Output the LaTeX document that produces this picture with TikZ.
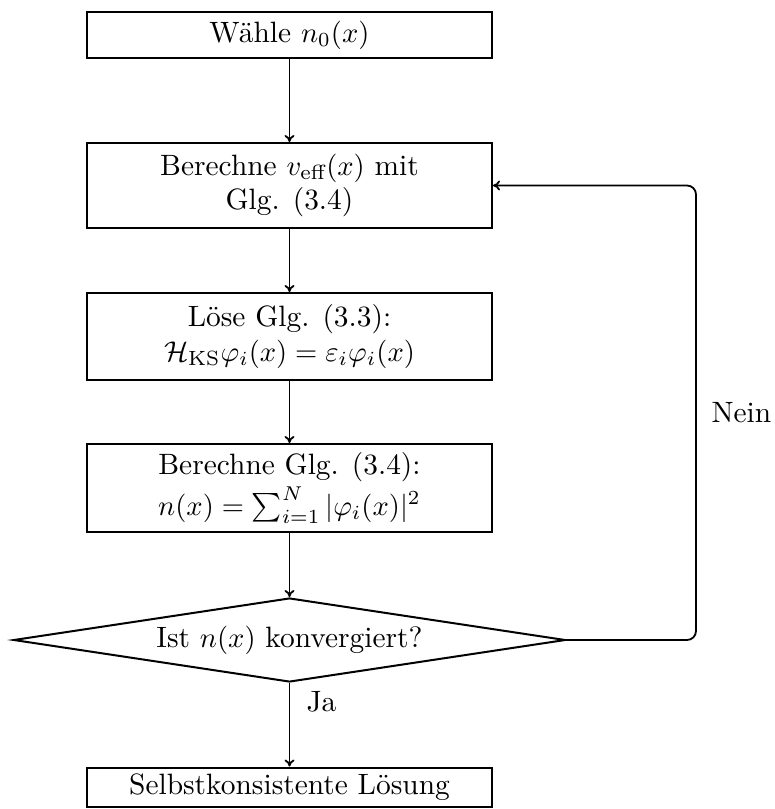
\documentclass[tikz,border=0pt]{standalone}
\usepackage{amsmath}
\usetikzlibrary{shapes.geometric,arrows.meta}
\begin{document}
\begin{tikzpicture}[x=0.35pt,y=-0.35pt,
  every node/.style={font=\fontsize{10.3}{12.1}\selectfont},
  stepbox/.style={draw,line width=0.7pt,rectangle,minimum width=141.75pt,align=center,inner sep=0pt},
  flow/.style={line width=0.63pt,-{To[length=2.45pt,width=3.5pt]}}]
\useasboundingbox (0,0) rectangle (775,809);
\node[stepbox,minimum height=16.1pt] (b1) at (289.5,35) {W\"ahle $n_0(x)$};
\node[stepbox,minimum height=29.75pt] (b2) at (289.5,185.5) {Berechne $v_{\text{eff}}(x)$ mit\\Glg. (3.4)};
\node[stepbox,minimum height=30.45pt] (b3) at (289.5,336.5) {L\"ose Glg. (3.3):\\$\mathcal{H}_{\text{KS}}\varphi_i(x)=\varepsilon_i\varphi_i(x)$};
\node[stepbox,minimum height=30.8pt] (b4) at (289.5,488) {Berechne Glg. (3.4):\\[1pt]$n(x)=\sum_{i=1}^{N}|\varphi_i(x)|^2$};
\node[draw,line width=0.7pt,diamond,aspect=6.6,minimum width=193.2pt,minimum height=29.4pt,inner sep=0pt] (d) at (289.5,640) {Ist $n(x)$ konvergiert?};
\node[stepbox,minimum height=13.65pt] (b5) at (289.5,787) {Selbstkonsistente L\"osung};
\coordinate (c1) at (696,640);
\draw[flow] (b1) -- (b2);
\draw[flow] (b2) -- (b3);
\draw[flow] (b3) -- (b4);
\draw[flow] (b4) -- (d);
\draw[flow] (d) -- (b5);
\draw[flow,rounded corners=3.15pt] (d.east) -- (c1) |- (b2.east);
\node[anchor=west,inner sep=0pt] (nein) at (711,413) {Nein};
\node[anchor=west,inner sep=0pt] (ja) at (306,702) {Ja};
\end{tikzpicture}
\end{document}
